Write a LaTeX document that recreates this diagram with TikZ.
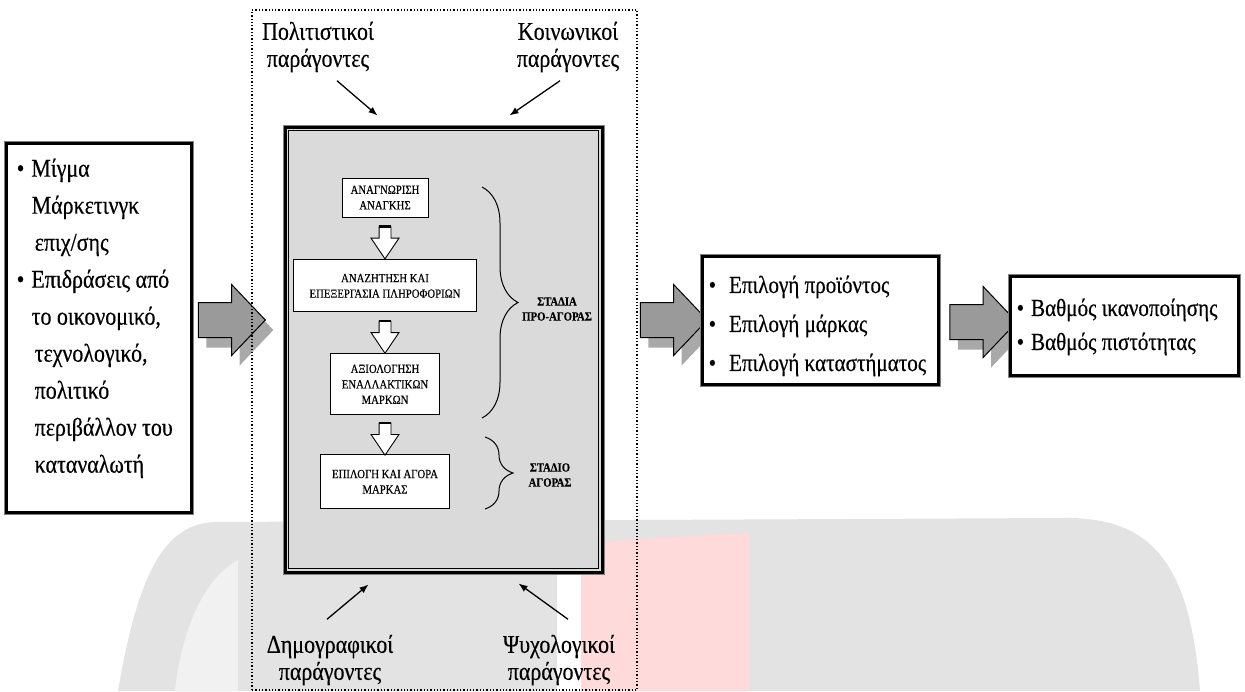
\documentclass[tikz,border=0pt]{standalone}
\usepackage{fontspec}
\setmainfont{Liberation Serif}
\newfontfamily\textoAlto[FakeStretch=0.86, FakeBold=0.4]{Liberation Serif}
\usetikzlibrary{arrows.meta, positioning, shapes.arrows, calc,
                decorations.pathreplacing, shadows}
\definecolor{grisCaja}{HTML}{DADADA}
\definecolor{grisFlecha}{HTML}{9A9A9A}
\definecolor{grisSombra}{HTML}{A9A9A9}
\definecolor{grisMarca}{HTML}{E3E3E3}
\definecolor{grisMarcaClaro}{HTML}{F1F1F1}
\definecolor{rosaMarca}{HTML}{FFDADA}
\tikzset{
  cajaMarco/.style={
    draw=black, line width=3pt, fill=white,
    preaction={draw=gray, line width=5pt},
    inner sep=0pt, align=left
  },
  cajaEtapa/.style={
    draw=black, line width=0.9pt, fill=white, inner sep=2pt,
    align=center, font=\textoAlto\fontsize{12.5}{15.5}\selectfont
  },
  flechaBloque/.style={
    single arrow, draw=black, line width=1pt, fill=grisFlecha,
    minimum height=67pt, inner xsep=0pt, inner ysep=17pt,
    single arrow head extend=18pt, single arrow tip angle=93,
    drop shadow={shadow xshift=8pt, shadow yshift=-10pt,
                 fill=grisSombra, opacity=1}
  },
  flechaHueca/.style={
    single arrow, rotate=-90, draw=black, line width=0.9pt,
    fill=white, minimum height=32pt, inner xsep=0pt, inner ysep=5.5pt,
    single arrow head extend=8pt, single arrow tip angle=68
  },
  flechaFina/.style={-{Latex[length=9pt, width=7pt]}, line width=1.3pt},
  etiquetaFactor/.style={align=center,
    font=\textoAlto\fontsize{25.5}{27}\selectfont},
  etiquetaEtapa/.style={align=center,
    font=\textoAlto\bfseries\fontsize{12.5}{15}\selectfont},
  textoCaja/.style={align=left, inner sep=0pt, anchor=north west},
  llave/.style={decorate, decoration={brace, amplitude=#1}, line width=1pt},
}

\begin{document}
\begin{tikzpicture}[x=1pt, y=-1pt]
  \useasboundingbox (0,0) rectangle (1245,691);
  % marca de agua
  \fill[grisMarca] (118,691) .. controls (140,560) and (170,524) .. (215,522)
    -- (1060,518) .. controls (1150,516) and (1190,560) .. (1200,691) -- cycle;
  \fill[grisMarcaClaro] (238,691) -- (238,560)
    .. controls (200,580) and (180,640) .. (175,691) -- cycle;
  \fill[white] (557,691) -- (557,572) -- (581,568) -- (581,691) -- cycle;
  \fill[rosaMarca] (581,691) -- (581,568) .. controls (590,545) .. (620,540)
    -- (749,533) -- (749,691) -- cycle;

  % flechas grandes (debajo de las cajas)
  \node[flechaBloque] (g1) at (223.5,320) {};
  \node[flechaBloque] (g2) at (665.5,320) {};
  \node[flechaBloque] (g3) at (975,322) {};

  % factores y proceso
  \node[draw, dotted, line width=1.3pt, minimum width=385pt,
        minimum height=680pt, inner sep=0pt] (factores) at (444.5,350) {};
  \node[cajaMarco, fill=grisCaja, minimum width=317pt,
        minimum height=445pt] (proceso) at (443.5,349.5) {};
  \draw[line width=0.8pt] ([shift={(5pt,-5pt)}]proceso.north west)
    rectangle ([shift={(-5pt,5pt)}]proceso.south east);

  \node[cajaEtapa, minimum width=86pt, minimum height=39pt] (anag)
    at (385,197.5) {ΑΝΑΓΝΩΡΙΣΗ\\ΑΝΑΓΚΗΣ};
  \node[cajaEtapa, minimum width=183pt, minimum height=52pt,
        below=42pt of anag] (anaz) {ΑΝΑΖΗΤΗΣΗ ΚΑΙ\\ΕΠΕΞΕΡΓΑΣΙΑ ΠΛΗΡΟΦΟΡΙΩΝ};
  \node[cajaEtapa, minimum width=109pt, minimum height=61pt,
        below=41pt of anaz] (axio) {ΑΞΙΟΛΟΓΗΣΗ\\ΕΝΑΛΛΑΚΤΙΚΩΝ\\ΜΑΡΚΩΝ};
  \node[cajaEtapa, minimum width=129pt, minimum height=54pt,
        below=39pt of axio] (epil) {ΕΠΙΛΟΓΗ ΚΑΙ ΑΓΟΡΑ\\ΜΑΡΚΑΣ};

  \foreach \a/\b [count=\i] in {anag/anaz, anaz/axio, axio/epil}{
    \node[flechaHueca] (h\i) at ($(\a.south)!0.5!(\b.north)$) {};
    \draw[line width=2.2pt] (h\i.before tail) -- (h\i.after tail);
  }

  \draw[llave=36pt] (482,187) -- (482,418);
  \draw[llave=28pt] (485,437) -- (485,509);
  \node[etiquetaEtapa] (preAgora) at (557,309) {ΣΤΑΔΙΑ\\ΠΡΟ-ΑΓΟΡΑΣ};
  \node[etiquetaEtapa] (agora) at (550,475) {ΣΤΑΔΙΟ\\ΑΓΟΡΑΣ};

  \node[etiquetaFactor] (polit) at (318,47) {Πολιτιστικοί\\παράγοντες};
  \node[etiquetaFactor] (koin) at (568,47) {Κοινωνικοί\\παράγοντες};
  \node[etiquetaFactor] (dimo) at (330,660) {Δημογραφικοί\\παράγοντες};
  \node[etiquetaFactor] (psyx) at (559,660) {Ψυχολογικοί\\παράγοντες};

  \draw[flechaFina] ([xshift=19pt, yshift=-5pt]polit.south)
    -- ([xshift=-66pt, yshift=10pt]proceso.north);
  \draw[flechaFina] ([xshift=-8pt, yshift=-5pt]koin.south)
    -- ([xshift=66pt, yshift=10pt]proceso.north);
  \draw[flechaFina] ([xshift=-3pt, yshift=12pt]dimo.north)
    -- ([xshift=-75pt, yshift=-11pt]proceso.south);
  \draw[flechaFina] ([xshift=9pt, yshift=12pt]psyx.north)
    -- ([xshift=75pt, yshift=-10pt]proceso.south);

  % cajas exteriores
  \node[cajaMarco, minimum width=185pt, minimum height=369pt] (mezcla)
    at (98.5,327.5) {};
  \node[textoCaja, font=\textoAlto\fontsize{25.5}{37}\selectfont]
    (mezclaTexto) at ([shift={(12pt,-17pt)}]mezcla.north west)
    {•\hspace{7pt}Μίγμα\\
      \hspace*{15pt}Μάρκετινγκ\\
      \hspace*{18pt}επιχ/σης\\
      •\hspace{7pt}Επιδράσεις από\\
      \hspace*{15pt}το οικονομικό,\\
      \hspace*{18pt}τεχνολογικό,\\
      \hspace*{18pt}πολιτικό\\
      \hspace*{18pt}περιβάλλον του\\
      \hspace*{18pt}καταναλωτή};
  \node[cajaMarco, minimum width=236pt, minimum height=128pt] (eleccion)
    at (820,320) {};
  \node[textoCaja, font=\textoAlto\fontsize{24.5}{39}\selectfont]
    (eleccionTexto) at ([shift={(8pt,-21pt)}]eleccion.north west)
    {•\hspace{13pt}Επιλογή προϊόντος\\
      •\hspace{13pt}Επιλογή μάρκας\\
      •\hspace{13pt}Επιλογή καταστήματος};
  \node[cajaMarco, minimum width=228pt, minimum height=99pt] (lealtad)
    at (1124,325.5) {};
  \node[textoCaja, font=\textoAlto\fontsize{24.5}{34}\selectfont]
    (lealtadTexto) at ([shift={(8pt,-24pt)}]lealtad.north west)
    {•\hspace{7pt}Βαθμός ικανοποίησης\\
      •\hspace{7pt}Βαθμός πιστότητας};
\end{tikzpicture}
\end{document}
